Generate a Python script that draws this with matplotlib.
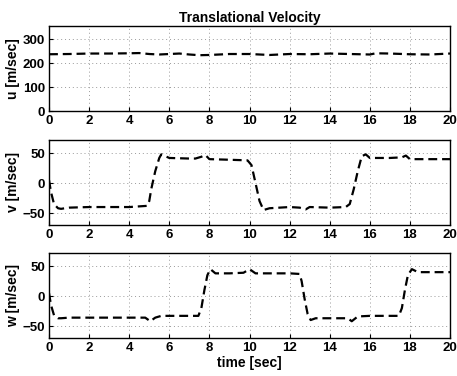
import matplotlib.pyplot as plt

plt.rcParams["font.family"] = ["Liberation Sans", "DejaVu Sans"]
plt.rcParams["font.weight"] = "bold"

# values
u_time = [0, 1, 2, 3, 4, 4.5, 5, 5.5, 6, 6.5, 7, 7.5, 8, 8.5, 9, 10,
          10.5, 11, 12, 13, 14, 15, 16, 16.3, 17, 18, 19, 20]
u_vals = [237, 238, 240, 240, 241, 242, 238, 236, 238, 240, 236, 233, 234,
          236, 238, 238, 236, 234, 238, 237, 240, 238, 236, 241, 240, 237,
          236, 240]

v_time = [0, 0.1, 0.25, 0.45, 0.6, 1, 2, 3, 4, 4.9, 5.0, 5.1, 5.3, 5.5,
          5.6, 5.8, 6, 7, 7.3, 7.6, 7.8, 8, 9, 9.9, 10.1, 10.3, 10.5, 10.7,
          11, 12, 12.5, 12.8, 13, 14, 14.8, 15, 15.2, 15.4, 15.6, 15.8, 16,
          17, 17.6, 17.8, 18, 19, 20]
v_vals = [5, -15, -35, -42, -43, -41, -40, -40, -40, -38, -30, -10, 20, 42,
          48, 45, 42, 41, 41, 44, 47, 40, 39, 38, 30, 0, -30, -45, -42, -40,
          -41, -44, -40, -41, -40, -35, -10, 20, 45, 48, 42, 42, 43, 46, 40,
          40, 40]

w_time = [0, 0.1, 0.25, 0.45, 0.6, 1, 2, 3, 4, 4.8, 5.05, 5.3, 5.6, 6, 7,
          7.45, 7.6, 7.75, 7.9, 8.05, 8.3, 9, 9.7, 10, 10.3, 11, 12, 12.5,
          12.6, 12.75, 12.9, 13.05, 13.3, 14, 14.9, 15.1, 15.4, 16, 17, 17.45,
          17.6, 17.75, 17.9, 18.1, 18.4, 19, 20]
w_vals = [5, -15, -32, -37, -37, -36, -36, -36, -36, -36, -42, -36, -33, -33,
          -33, -33, -20, 10, 35, 45, 38, 38, 39, 45, 38, 38, 38, 37, 25, -5,
          -30, -40, -37, -37, -37, -42, -34, -33, -33, -33, -20, 10, 35, 45,
          40, 40, 40]

panels = [
    (u_time, u_vals, "u [m/sec]", (0, 355), [0, 100, 200, 300]),
    (v_time, v_vals, "v [m/sec]", (-70, 72), [-50, 0, 50]),
    (w_time, w_vals, "w [m/sec]", (-70, 72), [-50, 0, 50]),
]

fig = plt.figure(figsize=(4.57, 3.76), dpi=100)
bottoms = [265, 151, 38]
for (t, y, label, ylim, yticks), b in zip(panels, bottoms):
    ax = fig.add_axes([49 / 457, b / 376, 401 / 457, 85 / 376])
    ax.plot(t, y, color="black", linestyle=(0, (4, 2.2)), linewidth=1.6)
    ax.set_xlim(0, 20)
    ax.set_ylim(*ylim)
    ax.set_xticks(range(0, 21, 2))
    ax.set_yticks(yticks)
    ax.grid(True, color="#999999", linestyle=(0, (1, 3)), linewidth=0.7)
    ax.set_ylabel(label, fontsize=10, fontweight="bold", labelpad=2)
    ax.tick_params(labelsize=9.5, direction="in", length=3, pad=3)
    for s in ax.spines.values():
        s.set_linewidth(1.0)
    if b == bottoms[0]:
        ax.set_title("Translational Velocity", fontsize=10, fontweight="bold", pad=3)
    if b == bottoms[-1]:
        ax.set_xlabel("time [sec]", fontsize=10, fontweight="bold", labelpad=1)

fig.savefig("out.png", dpi=100)
